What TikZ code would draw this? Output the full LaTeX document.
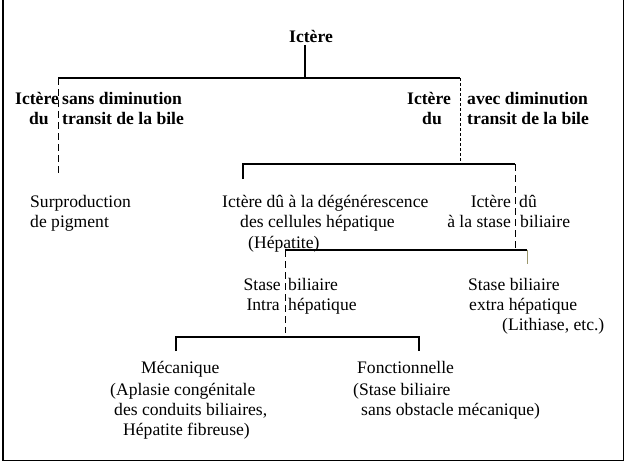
\documentclass[tikz,border=0pt]{standalone}
\usepackage{fontspec}
\setmainfont{Liberation Serif}
\begin{document}
\begin{tikzpicture}[x=1pt,y=-1pt,
  txt/.style={inner sep=0pt,font=\fontsize{17.6}{20}\selectfont},
  btxt/.style={inner sep=0pt,font=\fontsize{17.6}{20}\selectfont\bfseries},
  solidline/.style={line width=1.6pt},
  dashline/.style={line width=0.8pt,dash pattern=on 6pt off 3pt},
  fineline/.style={line width=0.6pt,color=black!50!olive!60}]
\useasboundingbox (0,0) rectangle (632,472);
% frame
\draw[line width=1.8pt] (3,-5) rectangle (623.5,460.5);
% title
\node[btxt,anchor=base] (ict) at (311,42) {Ictère};
% level 1
\coordinate (j0) at (305,45);
\coordinate (j1) at (305,78);
\coordinate (l1a) at (58,78);
\coordinate (l1b) at (460,78);
\coordinate (l1aend) at (58,173);
\coordinate (l1bend) at (460,164);
\draw[solidline] (j0) -- (j1);
\draw[solidline] (l1a) -- (l1b);
\draw[dashline,dash pattern=on 7pt off 4pt] (l1a) -- (l1aend);
\draw[dashline,line width=0.7pt,dash pattern=on 3pt off 2pt] (l1b) -- (l1bend);
% labels level 1
\node[btxt,anchor=base] (sa1) at (37,104) {Ictère};
\node[btxt,anchor=base] (sa2) at (39,124) {du};
\node[btxt,anchor=base west] (sb1) at (62,104) {sans diminution};
\node[btxt,anchor=base west] (sb2) at (62,124) {transit de la bile};
\node[btxt,anchor=base] (aa1) at (429,104) {Ictère};
\node[btxt,anchor=base] (aa2) at (432,124) {du};
\node[btxt,anchor=base west] (ab1) at (467,104) {avec diminution};
\node[btxt,anchor=base west] (ab2) at (467,124) {transit de la bile};
% level 2
\coordinate (l2a) at (243,164);
\coordinate (l2b) at (515,164);
\coordinate (l2atick) at (243,179);
\coordinate (l2bend) at (515,250);
\draw[solidline] (l2atick) -- (l2a) -- (l2b);
\draw[dashline,dash pattern=on 7pt off 4pt] (l2b) -- (l2bend);
\node[txt,anchor=base west] (sp1) at (30,207) {Surproduction};
\node[txt,anchor=base west] (sp2) at (30,227) {de pigment};
\node[txt,anchor=base west] (dg1) at (222,207) {Ictère dû à la dégénérescence};
\node[txt,anchor=base west] (dg2) at (240,227) {des cellules hépatique};
\node[txt,anchor=base west] (dg3) at (248,248) {(Hépatite)};
\node[txt,anchor=base east] (st1a) at (511,207) {Ictère};
\node[txt,anchor=base west] (st1b) at (519,207) {dû};
\node[txt,anchor=base east] (st2a) at (511,227) {à la stase};
\node[txt,anchor=base west] (st2b) at (520,227) {biliaire};
% level 3
\coordinate (l3a) at (285,250);
\coordinate (l3b) at (527,250);
\coordinate (l3aend) at (285,333);
\coordinate (l3btick) at (527,264);
\draw[solidline] (l3a) -- (l3b);
\draw[fineline] (l3b) -- (l3btick);
\draw[dashline,dash pattern=on 7pt off 4pt] (l3a) -- (l3aend);
\node[txt,anchor=base east] (ih1a) at (281,290) {Stase};
\node[txt,anchor=base west] (ih1b) at (288,290) {biliaire};
\node[txt,anchor=base east] (ih2a) at (280,310) {Intra};
\node[txt,anchor=base west] (ih2b) at (288,310) {hépatique};
\node[txt,anchor=base west] (eh1) at (468,290) {Stase biliaire};
\node[txt,anchor=base west] (eh2) at (469,310) {extra hépatique};
\node[txt,anchor=base west] (eh3) at (502,330) {(Lithiase, etc.)};
% level 4
\coordinate (l4a) at (176,337);
\coordinate (l4b) at (419,337);
\coordinate (l4atick) at (176,351);
\coordinate (l4btick) at (419,351);
\draw[solidline] (l4atick) -- (l4a) -- (l4b) -- (l4btick);
\node[txt,anchor=base west] (me1) at (141,373) {Mécanique};
\node[txt,anchor=base west] (me2) at (110,395) {(Aplasie congénitale};
\node[txt,anchor=base west] (me3) at (114,415) {des conduits biliaires,};
\node[txt,anchor=base west] (me4) at (123,435) {Hépatite fibreuse)};
\node[txt,anchor=base west] (fo1) at (357,373) {Fonctionnelle};
\node[txt,anchor=base west] (fo2) at (353,395) {(Stase biliaire};
\node[txt,anchor=base west] (fo3) at (361,415) {sans obstacle mécanique)};
\end{tikzpicture}
\end{document}
